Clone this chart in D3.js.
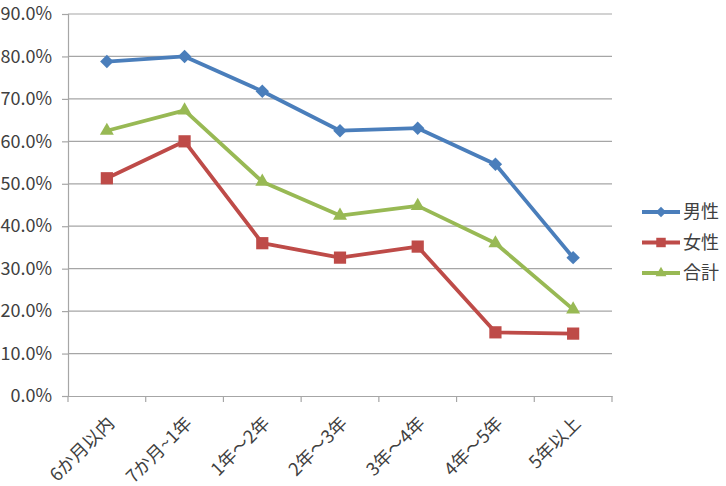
<!DOCTYPE html>
<html>
<head>
<meta charset="utf-8">
<script src="https://cdn.jsdelivr.net/npm/d3@7"></script>
<style>
  body { margin: 0; background: #fff; }
  text { font-family: "Noto Sans CJK JP", "Noto Sans", sans-serif; fill: #404040; }
</style>
</head>
<body>
<div id="chart"></div>
<script>
// data
const categories = ["6か月以内", "7か月~1年", "1年～2年", "2年～3年", "3年～4年", "4年～5年", "5年以上"]
const male   = [78.8, 80.0, 71.8, 62.5, 63.1, 54.6, 32.6]
const female = [51.3, 60.0, 36.0, 32.6, 35.2, 15.0, 14.7]
const total  = [62.5, 67.3, 50.5, 42.5, 44.8, 36.0, 20.4]
const seriesNames = ["男性", "女性", "合計"]
const yTicks = [0, 10, 20, 30, 40, 50, 60, 70, 80, 90]

const WD = 726, HT = 486
const margin = { left: 68, right: 114, top: 14, bottom: 90 }
const width = WD - margin.left - margin.right
const height = HT - margin.top - margin.bottom

const series = [
  { name: seriesNames[0], values: male,   color: "#4A7EBB", symbol: d3.symbolDiamond2, size: 115 },
  { name: seriesNames[1], values: female, color: "#BE4B48", symbol: d3.symbolSquare2,  size: 190 },
  { name: seriesNames[2], values: total,  color: "#98B954", symbol: d3.symbolTriangle2, size: 140 }
]

var svg = d3.select("#chart").append("svg")
    .attr("width", WD)
    .attr("height", HT)

var g = svg.append("g")
    .attr("transform", "translate(" + margin.left + "," + margin.top + ")")

const xs = d3.scaleBand().domain(categories).range([0, width])
const ys = d3.scaleLinear().domain([0, 90]).range([height, 0])

// gridlines
g.selectAll(".grid")
  .data(yTicks.filter(t => t > 0))
  .enter().append("line")
    .attr("x1", 0).attr("x2", width)
    .attr("y1", d => ys(d)).attr("y2", d => ys(d))
    .attr("stroke", "#a6a6a6").attr("stroke-width", 1.2)

// y axis
var yAxis = g.append("g")
    .call(d3.axisLeft(ys).tickValues(yTicks).tickFormat(d => d.toFixed(1) + "%").tickSize(6).tickPadding(10))
yAxis.select(".domain").attr("stroke", "#a6a6a6").attr("stroke-width", 1.2)
yAxis.selectAll("line").attr("stroke", "#a6a6a6").attr("stroke-width", 1.2)
yAxis.selectAll("text").attr("font-size", "18px").attr("fill", "#404040")

// x axis
var xAxis = g.append("g")
    .attr("transform", "translate(0," + height + ")")
    .call(d3.axisBottom(xs).tickSize(0).tickSizeOuter(0))
xAxis.select(".domain").attr("stroke", "#a6a6a6").attr("stroke-width", 1.2)
xAxis.selectAll(".tick line").remove()
xAxis.selectAll(".tick text")
    .attr("font-size", "18px")
    .attr("fill", "#404040")
    .attr("text-anchor", "end")
    .attr("dy", "0.35em")
    .attr("transform", "translate(2,22) rotate(-45)")

// boundary ticks on x axis
g.selectAll(".xtick")
  .data(categories.concat([null]))
  .enter().append("line")
    .attr("x1", (d, i) => i * xs.bandwidth()).attr("x2", (d, i) => i * xs.bandwidth())
    .attr("y1", height).attr("y2", height + 6)
    .attr("stroke", "#a6a6a6").attr("stroke-width", 1.2)

const line = d3.line()
    .x((d, i) => xs(categories[i]) + xs.bandwidth() / 2)
    .y(d => ys(d))

series.forEach(s => {
  g.append("path")
    .datum(s.values)
    .attr("d", line)
    .attr("fill", "none")
    .attr("stroke", s.color)
    .attr("stroke-width", 3.8)
    .attr("stroke-linejoin", "round")

  g.selectAll(null)
    .data(s.values)
    .enter().append("path")
      .attr("d", d3.symbol().type(s.symbol).size(s.size))
      .attr("transform", (d, i) => "translate(" + (xs(categories[i]) + xs.bandwidth() / 2) + "," + ys(d) + ")")
      .attr("fill", s.color)
})

// legend
var legend = svg.append("g").attr("transform", "translate(642,212)")
series.forEach((s, i) => {
  var row = legend.append("g").attr("transform", "translate(0," + (i * 30.5) + ")")
  row.append("line")
    .attr("x1", 0).attr("x2", 38).attr("y1", 0).attr("y2", 0)
    .attr("stroke", s.color).attr("stroke-width", 3.8)
  row.append("path")
    .attr("d", d3.symbol().type(s.symbol).size(s.size * 0.6))
    .attr("transform", "translate(19,0)")
    .attr("fill", s.color)
  row.append("text")
    .attr("x", 41).attr("y", 0).attr("dy", "0.35em")
    .attr("font-size", "18px")
    .text(s.name)
})
</script>
</body>
</html>
